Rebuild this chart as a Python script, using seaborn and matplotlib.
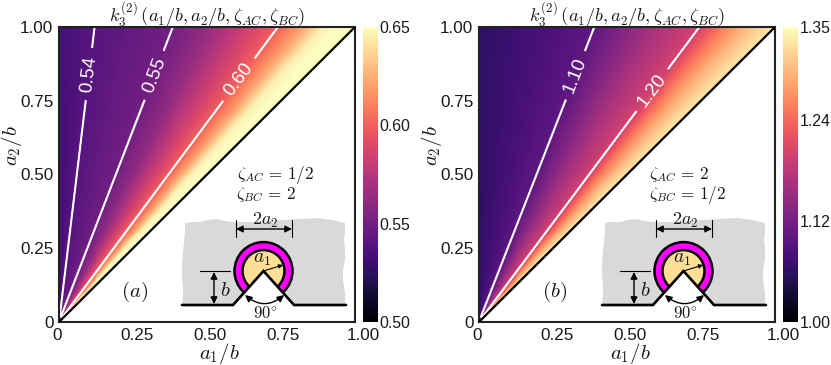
import numpy as np
import matplotlib
matplotlib.use("Agg")
import matplotlib.pyplot as plt
import seaborn as sns
from matplotlib.patches import Polygon, Circle, FancyArrowPatch
from matplotlib.transforms import ScaledTranslation

sns.set_theme(style="white")
plt.rcParams['font.family'] = ['Liberation Sans', 'DejaVu Sans']
plt.rcParams['mathtext.fontset'] = 'cm'

ratio_a = [0.0, 0.12, 0.385, 0.50, 0.64, 0.74, 0.82, 0.89, 1.0]
k_a = [0.533, 0.54, 0.55, 0.562, 0.585, 0.60, 0.62, 0.645, 0.655]
ratio_b = [0.0, 0.10, 0.39, 0.60, 0.745, 0.82, 0.90, 1.0]
k_b = [1.06, 1.07, 1.10, 1.165, 1.20, 1.252, 1.2975, 1.335]

levels_a = [0.54, 0.55, 0.60]
levels_b = [1.10, 1.20]
label_pos_a = [(0.108, 0.84), (0.327, 0.834), (0.61, 0.82)]
label_pos_b = [(0.324, 0.837), (0.585, 0.786)]
cticks_a = [0.50, 0.55, 0.60, 0.65]
cticks_b = [1.00, 1.12, 1.24, 1.35]
ticks = [0, 0.25, 0.50, 0.75, 1.00]
ticklabels = ['0', '0.25', '0.50', '0.75', '1.00']
TC = '#1a1a1a'
FS = 12.3
N = 300
W, H = 831, 365


def D(px, py):
    return ((px - 59) / 296 * N, (322 - py) / 295 * N)


def diagram(ax):
    blob = [(185, 223), (192, 222), (200, 222), (208, 220), (217, 219), (225, 221), (233, 222), (253, 222),
            (268, 221), (283, 220), (300, 219), (317, 218), (333, 220), (345, 223), (345, 232), (344, 240),
            (345, 250), (345, 260), (343, 270), (343, 280), (345, 293), (345, 305), (182, 305), (183, 296),
            (183, 287), (182, 275), (182, 263), (183, 252), (184, 243), (185, 232)]
    ax.add_patch(Polygon([D(*p) for p in blob], closed=True, fc='#d9d9d9', ec='none', zorder=3))
    cx, cy = 263.5, 271
    s = N / 296
    ax.add_patch(Circle(D(cx, cy), 29 * s, fc='#ff00ff', ec='black', lw=1.8, zorder=4))
    ax.add_patch(Circle(D(cx, cy), 21 * s, fc='#fedf95', ec='black', lw=1.8, zorder=5))
    ax.add_patch(Polygon([D(233, 306), D(cx, cy), D(294, 306)], closed=True, fc='white', ec='none', zorder=6))
    ax.plot(*zip(D(182, 305), D(233, 305), D(cx, cy), D(294, 305), D(346, 305)), color='black', lw=1.9,
            zorder=7, solid_joinstyle='miter')
    ax.plot(*zip(D(236, 220), D(236, 237)), color='black', lw=0.8, zorder=7)
    ax.plot(*zip(D(292, 220), D(292, 237)), color='black', lw=0.8, zorder=7)
    ax.plot(*zip(D(200, 271), D(230, 271)), color='black', lw=0.8, zorder=7)
    def arrow(a, b, style='<|-|>', ms=10, lw=1.0, **kw):
        ax.add_patch(FancyArrowPatch(D(*a), D(*b), arrowstyle=style, mutation_scale=ms, color='black', lw=lw,
                                     shrinkA=0, shrinkB=0, zorder=8, **kw))
    arrow((236, 229), (292, 229))
    arrow((214, 272), (214, 304))
    arrow((cx, cy), (283, 265), style='-|>', ms=6, lw=0.8)
    arrow((245, 295), (284, 295), connectionstyle='arc3,rad=0.42')
    for t, p, fs in [(r'$2a_2$', (265, 220), 13), (r'$a_1$', (262, 259), 14), (r'$b$', (225, 291), 15),
                     (r'$90^{\circ}$', (265, 313), 12)]:
        x, y = D(*p)
        ax.text(x, y, t, fontsize=fs, color=TC, ha='center', va='center', zorder=9)


def panel(left, cleft, ratios, ks, vmin, vmax, levels, label_pos, cticks, tag, zeta, zeta_x, fmt):
    x = (np.arange(N) + 0.5) / N
    X, Y = np.meshgrid(x, x)
    R = X / Y
    Z = np.interp(np.clip(R, 0, 1), ratios, ks)
    mask = X >= Y
    ax = plt.gcf().add_axes([left / W, (H - 322) / H, 296 / W, 295 / H])
    cax = plt.gcf().add_axes([cleft / W, (H - 322) / H, 15 / W, 295 / H])
    sns.heatmap(Z, mask=mask, cmap='magma', vmin=vmin, vmax=vmax, ax=ax, cbar_ax=cax, square=False,
                xticklabels=False, yticklabels=False, rasterized=True)
    ax.set_xlim(0, N)
    ax.set_ylim(0, N)
    ax.set_xticks([t * N for t in ticks])
    ax.set_yticks([t * N for t in ticks])
    ax.set_xticklabels(ticklabels, fontsize=FS, color=TC)
    ax.set_yticklabels(ticklabels, fontsize=FS, color=TC, rotation=0)
    ax.tick_params(length=0, pad=4)
    fig = plt.gcf()
    for lab, dx in zip(ax.get_xticklabels(), [-2, 4, 3, 2, 8]):
        lab.set_transform(lab.get_transform() + ScaledTranslation(dx / 100, 0, fig.dpi_scale_trans))
    for s in ax.spines.values():
        s.set_visible(True)
        s.set_linewidth(1.5)
        s.set_color('#222222')
    ZZ = np.ma.array(Z, mask=(X >= Y) | (X + Y < 0.02))
    cs = ax.contour((X * N), (Y * N), ZZ, levels=levels, colors='white', linewidths=1.5, zorder=2)
    ax.clabel(cs, inline=True, fontsize=13.5, fmt=fmt, manual=[(a * N, b * N) for a, b in label_pos],
              inline_spacing=8)
    ax.plot([0, N], [0, N], color='black', lw=1.6, zorder=3)
    ax.set_title(r'$k_3^{(2)}\,(a_1/b,a_2/b,\zeta_{AC},\zeta_{BC})$', fontsize=13.2, color=TC, pad=3)
    diagram(ax)
    x0, y0 = D(135, 292)
    ax.text(x0, y0, tag, fontsize=15, color=TC, ha='center', va='center')
    for t, zx, py in zip(zeta, zeta_x, [174.5, 194.5]):
        a, b = D(zx, py)
        ax.text(a, b, t, fontsize=12.3, color=TC, ha='left', va='center')
    cb = ax.collections[0].colorbar
    cb.outline.set_visible(False)
    cb.set_ticks(cticks)
    cb.set_ticklabels([f'{c:.2f}' for c in cticks], fontsize=11.4, color=TC)
    cax.tick_params(length=0, pad=1)
    return ax


fig = plt.figure(figsize=(8.31, 3.65), dpi=100, facecolor='white')
axa = panel(59, 363, ratio_a, k_a, 0.50, 0.65, levels_a, label_pos_a, cticks_a, r'$(a)$',
            [r'$\zeta_{AC}\,=\,1/2$', r'$\zeta_{BC}\,=\,2$'], [237, 236], '%.2f')
axb = panel(479, 783, ratio_b, k_b, 1.00, 1.35, levels_b, label_pos_b, cticks_b, r'$(b)$',
            [r'$\zeta_{AC}\,=\,2$', r'$\zeta_{BC}\,=\,1/2$'], [229, 229], '%.2f')
for x_px, xlab_px, ylab_px in [(0, 219, 11), (420, 630, 431)]:
    fig.text(xlab_px / W, (H - 354) / H, r'$a_1/b$', fontsize=15, color=TC, ha='center', va='center')
    fig.text(ylab_px / W, (H - 146) / H, r'$a_2/b$', fontsize=15, color=TC, ha='center', va='center', rotation=90)
fig.savefig('out.png', dpi=100)
